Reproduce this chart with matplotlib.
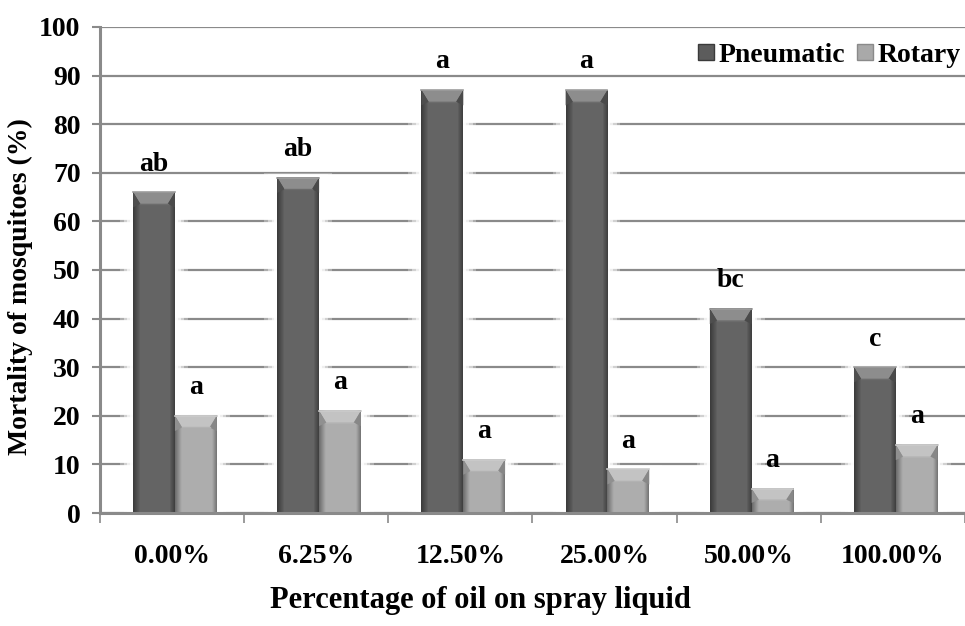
import numpy as np
import matplotlib
matplotlib.use("Agg")
import matplotlib.pyplot as plt
from matplotlib.patches import Rectangle, Polygon
from matplotlib.lines import Line2D

oil_levels = ["0.00%", "6.25%", "12.50%", "25.00%", "50.00%", "100.00%"]
pneumatic = [66, 69, 87, 87, 42, 30]
rotary = [20, 21, 11, 9, 5, 14]
pneumatic_letters = ["ab", "ab", "a", "a", "bc", "c"]
rotary_letters = ["a", "a", "a", "a", "a", "a"]

plt.rcParams["font.family"] = ["Liberation Serif", "DejaVu Serif"]
plt.rcParams["font.weight"] = "bold"
fs = 20

fig = plt.figure(figsize=(9.65, 6.26), dpi=100)
ax = fig.add_axes([0.1036, 0.1805, 0.8964, 0.7764])

axis_grey = "#8a8a8a"
ax.set_xlim(-0.5, 5.5)
ax.set_ylim(0, 100)
ax.set_yticks(np.arange(0, 101, 10))
ax.yaxis.grid(True, color=axis_grey, linewidth=1.6, zorder=0)
ax.set_axisbelow(True)

for s in ["top", "right"]:
    ax.spines[s].set_visible(False)
for s in ["left", "bottom"]:
    ax.spines[s].set_color(axis_grey)
    ax.spines[s].set_linewidth(2.2)
    ax.spines[s].set_zorder(6)

ax.set_xticks(np.arange(len(oil_levels)))
ax.set_xticklabels(oil_levels, fontsize=fs, fontweight="bold")
ax.set_xticks(np.arange(-0.5, 6.0, 1), minor=True)
ax.tick_params(axis="x", which="major", length=0, pad=22)
ax.tick_params(axis="x", which="minor", length=7, width=1.2, color=axis_grey)
ax.tick_params(axis="y", length=6, width=1.5, color=axis_grey, labelsize=fs, pad=8)
for lbl in ax.get_yticklabels():
    lbl.set_fontweight("bold")

ax.set_ylabel("Mortality of mosquitoes (%)", fontsize=fs, fontweight="bold", va="center")
ax.yaxis.set_label_coords(-0.0925, 0.465)
ax.set_xlabel("Percentage of oil on spray liquid", fontsize=22, fontweight="bold", va="center")
ax.xaxis.set_label_coords(0.44, -0.179)

width = 0.29
offsets = (-0.125, 0.165)


def shade(c, f):
    c = np.array(matplotlib.colors.to_rgb(c))
    if f >= 0:
        return tuple(c + (1 - c) * f)
    return tuple(c * (1 + f))


def bevel_bar(x, h, base):
    x0, x1 = x - width / 2, x + width / 2
    # soft white glow that breaks the gridlines around the bar
    for pad, a in [(0.09, 0.3), (0.065, 0.45), (0.04, 0.65), (0.02, 0.85)]:
        ax.add_patch(Rectangle((x0 - pad, 0), width + 2 * pad, h + pad * 10,
                               facecolor="white", edgecolor="none", alpha=a, zorder=1))
    # body with horizontal shading
    prof = np.concatenate([np.linspace(-0.35, 0.05, 8), np.full(30, 0.05), np.linspace(0.05, -0.3, 6)])
    grad = np.array([[shade(base, f) for f in prof]])
    ax.imshow(grad, extent=(x0, x1, 0, h), aspect="auto", zorder=3, interpolation="bilinear")
    # bevelled top
    bh = min(2.4, h * 0.45)
    dx = 0.05
    ax.add_patch(Polygon([(x0, h), (x1, h), (x1 - dx, h - bh), (x0 + dx, h - bh)],
                         closed=True, facecolor=shade(base, 0.3), edgecolor="none", zorder=4))
    ax.add_patch(Polygon([(x0, h), (x0 + dx, h - bh), (x0, h - bh * 1.3)],
                         closed=True, facecolor=shade(base, -0.15), edgecolor="none", zorder=4))
    ax.add_patch(Polygon([(x1, h), (x1 - dx, h - bh), (x1, h - bh * 1.3)],
                         closed=True, facecolor=shade(base, -0.2), edgecolor="none", zorder=4))
    ax.plot([x0 + dx, x1 - dx], [h - bh, h - bh], color=shade(base, 0.1), lw=1, zorder=5)
    ax.plot([x0, x1], [h, h], color=shade(base, 0.4), lw=1.2, zorder=5)


pn_color = "#5c5c5c"
rot_color = "#a9a9a9"
for i in range(len(oil_levels)):
    xp = i + offsets[0]
    xr = i + offsets[1]
    bevel_bar(xp, pneumatic[i], pn_color)
    bevel_bar(xr, rotary[i], rot_color)
    ax.text(xp, pneumatic[i] + 5.8, pneumatic_letters[i], ha="center", va="center",
            fontsize=fs, fontweight="bold", zorder=7)
    ax.text(xr, rotary[i] + 5.8, rotary_letters[i], ha="center", va="center",
            fontsize=fs, fontweight="bold", zorder=7)

ax.set_xlim(-0.5, 5.5)
ax.set_ylim(0, 100)

handles = [Line2D([], [], marker="s", linestyle="none", markersize=12,
                  markerfacecolor=pn_color, markeredgecolor="#3a3a3a"),
           Line2D([], [], marker="s", linestyle="none", markersize=12,
                  markerfacecolor=rot_color, markeredgecolor="#8a8a8a")]
ax.legend(handles, ["Pneumatic", "Rotary"], ncol=2, frameon=False,
          loc="center right", bbox_to_anchor=(0.998, 0.942),
          prop={"size": fs, "weight": "bold"}, handletextpad=0.05,
          columnspacing=0.3, borderaxespad=0, borderpad=0.1, handlelength=0.8)

fig.savefig("out.png", dpi=100)
